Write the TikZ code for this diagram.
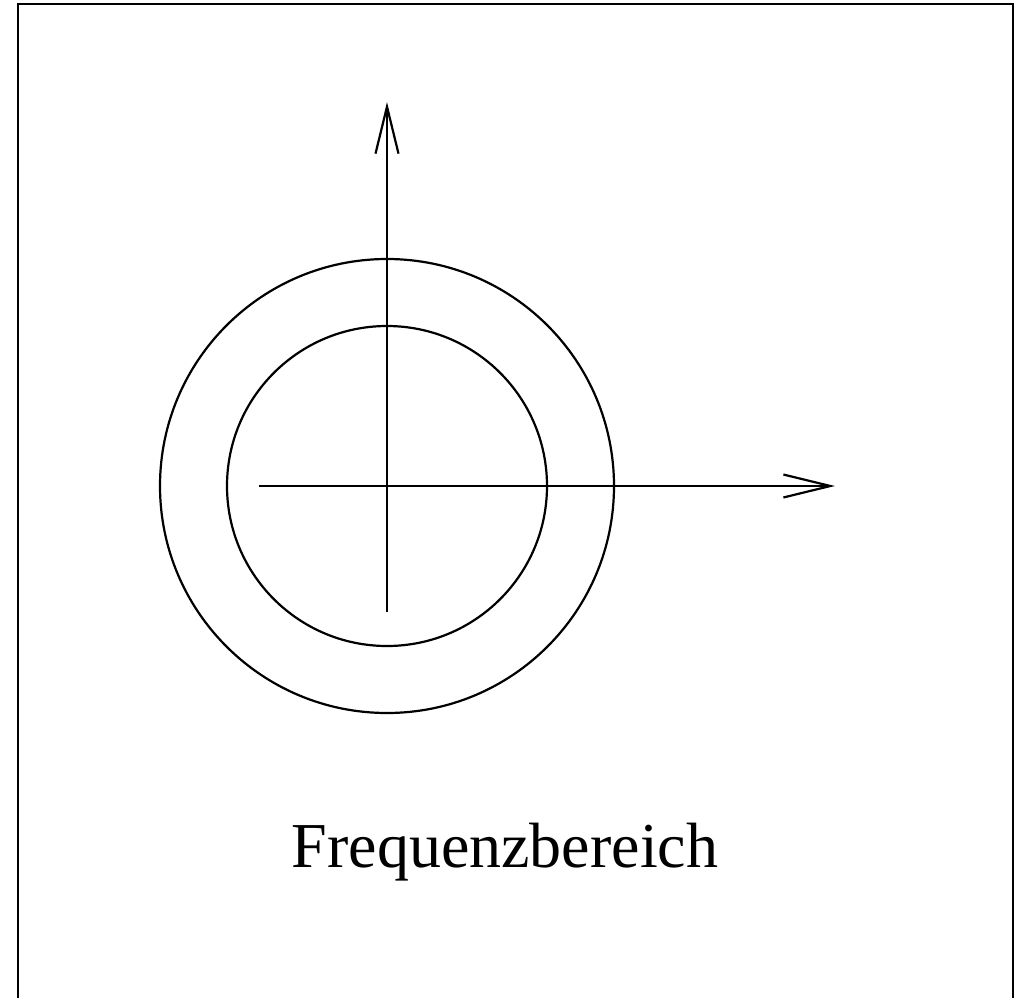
\documentclass[tikz,border=0pt]{standalone}
\usepackage{fontspec}
\setmainfont{Liberation Serif}
\usetikzlibrary{arrows.meta}
\begin{document}
\begin{tikzpicture}[x=1pt,y=-1pt,
  ln/.style={line width=2.2pt},
  axis/.style={ln,-{Straight Barb[length=47pt,width=23pt,line width=2.2pt]}},
  ring/.style={ln,draw,circle,inner sep=0pt,minimum size=#1}]
\useasboundingbox (0,0) rectangle (1020,998);
\clip (0,0) rectangle (1020,998);
\draw[ln] (18,1020) -- (18,4) -- (1013,4) -- (1013,1020);
\coordinate (c) at (387,486);
\node[ring=454pt] (outer) at (c) {};
\node[ring=320pt] (inner) at (c) {};
\coordinate (ybot) at (387,612);
\coordinate (ytop) at (387,102);
\coordinate (xl) at (259,486);
\coordinate (xr) at (835,486);
\draw[axis] (ybot) -- (ytop);
\draw[axis] (xl) -- (xr);
\node[inner sep=0pt,anchor=base,font=\fontsize{64}{76}\selectfont] (lbl) at (505,867) {Frequenzbereich};
\end{tikzpicture}
\end{document}
